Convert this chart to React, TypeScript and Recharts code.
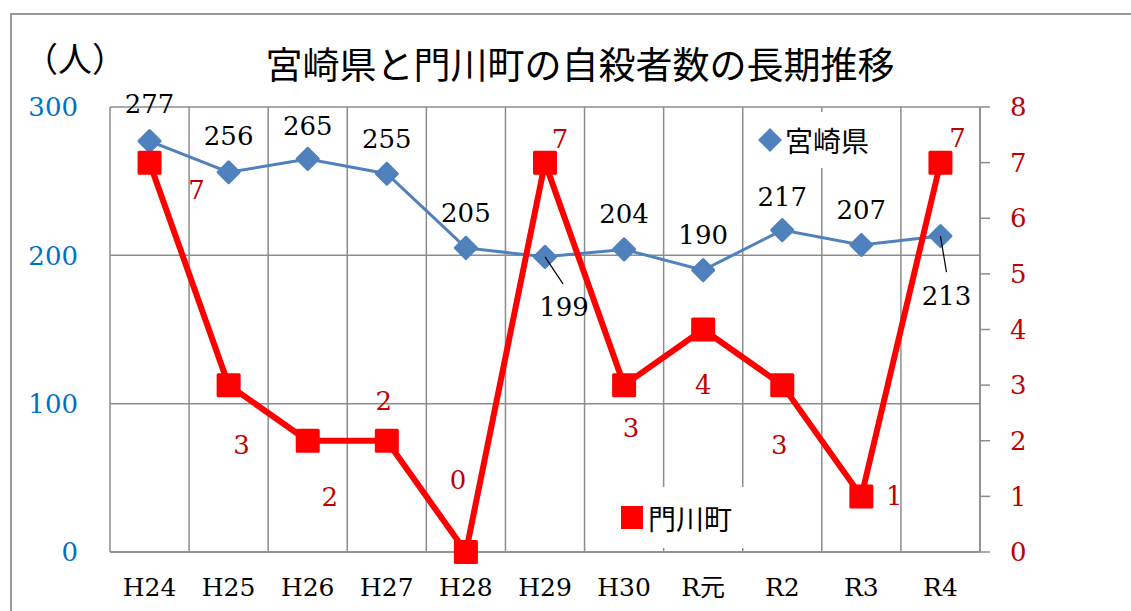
import {
  ComposedChart, Line, XAxis, YAxis, CartesianGrid, LabelList,
} from 'recharts';

const years = ['H24', 'H25', 'H26', 'H27', 'H28', 'H29', 'H30', 'R元', 'R2', 'R3', 'R4'];
const miyazaki = [277, 256, 265, 255, 205, 199, 204, 190, 217, 207, 213];
const kadogawa = [7, 3, 2, 2, 0, 7, 3, 4, 3, 1, 7];
const leftTicks = [0, 100, 200, 300];
const rightTicks = [0, 1, 2, 3, 4, 5, 6, 7, 8];

// label placement relative to each point (layout only)
const miyaOffsets = [[0, -37], [0, -36], [0, -33], [0, -35], [0, -35], [19, 50], [0, -35], [0, -35], [0, -33], [0, -35], [6, 60]];
const miyaLeaders: (number[] | null)[] = [null, null, null, null, null, [18, 27], null, null, null, null, [6, 36]];
const kadoOffsets = [[47, 27], [13, 60], [22, 56], [-3, -40], [-8, -72], [15, -24], [7, 43], [0, 55], [-3, 60], [33, 0], [17, -25]];

const data = years.map((y, i) => ({ year: y, miyazaki: miyazaki[i], kadogawa: kadogawa[i] }));

const W = 1131;
const H = 611;
const GRID = '#8c8c8c';
const NUM_FONT = "'DejaVu Serif', 'Noto Sans CJK JP', serif";
const JP_FONT = "'Noto Sans CJK JP', sans-serif";

function Diamond(p: any) {
  const { cx, cy } = p;
  if (cx == null || cy == null) return null;
  const r = 10.5;
  return (
    <path
      d={`M${cx},${cy - r}L${cx + r},${cy}L${cx},${cy + r}L${cx - r},${cy}Z`}
      fill="#4f81bd" stroke="#4f81bd" strokeWidth={3} strokeLinejoin="round"
    />
  );
}

function Square(p: any) {
  const { cx, cy } = p;
  if (cx == null || cy == null) return null;
  return (
    <rect x={cx - 10.5} y={cy - 10.5} width={21} height={21}
      fill="#ff0000" stroke="#ff0000" strokeWidth={3} strokeLinejoin="round" />
  );
}

function MiyaLabel(p: any) {
  const { x, y, value, index } = p;
  const [dx, dy] = miyaOffsets[index];
  const lead = miyaLeaders[index];
  return (
    <g>
      {lead && <line x1={x} y1={y} x2={x + lead[0]} y2={y + lead[1]} stroke="#000" strokeWidth={1.2} />}
      <text x={x + dx} y={y + dy} textAnchor="middle" dominantBaseline="central"
        fontFamily={NUM_FONT} fontSize={26} fill="#000">{value}</text>
    </g>
  );
}

function KadoLabel(p: any) {
  const { x, y, value, index } = p;
  const [dx, dy] = kadoOffsets[index];
  return (
    <text x={x + dx} y={y + dy} textAnchor="middle" dominantBaseline="central"
      fontFamily={NUM_FONT} fontSize={26} fill="#c00000">{value}</text>
  );
}

export default function App() {
  return (
    <div style={{ position: 'absolute', left: 0, top: 0, width: W, height: H, overflow: 'hidden', background: '#fff' }}>
      {/* outer frame, runs off the right and bottom edges */}
      <div style={{ position: 'absolute', left: 10, top: 13, width: 1300, height: 800, borderTop: `2px solid #9a9a9a`, borderLeft: `2px solid #9a9a9a` }} />

      <ComposedChart width={W} height={H} data={data}
        margin={{ top: 107, right: 91, bottom: 19, left: 10 }}>
        <CartesianGrid yAxisId="left" stroke={GRID} strokeWidth={1.5}
          verticalCoordinatesGenerator={({ offset }: any) =>
            Array.from({ length: years.length + 1 }, (_, i) => offset.left + (i * offset.width) / years.length)} />
        <XAxis dataKey="year" scale="band" height={40} tickLine={false} tickSize={0} tickMargin={26}
          axisLine={{ stroke: GRID, strokeWidth: 1.5 }} interval={0}
          tick={{ fontFamily: NUM_FONT, fontSize: 25, fill: '#000' }} />
        <YAxis yAxisId="left" width={100} domain={[0, 300]} ticks={leftTicks} interval={0}
          axisLine={false} tickLine={false} tickSize={0} tickMargin={32}
          tick={{ fontFamily: NUM_FONT, fontSize: 26, fill: '#0070c0' }} />
        <YAxis yAxisId="right" orientation="right" width={60} domain={[0, 8]} ticks={rightTicks} interval={0}
          axisLine={{ stroke: GRID, strokeWidth: 1.5 }} tickLine={{ stroke: GRID, strokeWidth: 1.5 }}
          tickSize={10} tickMargin={20}
          tick={{ fontFamily: NUM_FONT, fontSize: 26, fill: '#c00000' }} />
        <Line yAxisId="left" dataKey="miyazaki" name="宮崎県" stroke="#4f81bd" strokeWidth={3}
          dot={<Diamond />} activeDot={false} isAnimationActive={false}>
          <LabelList dataKey="miyazaki" content={<MiyaLabel />} />
        </Line>
        <Line yAxisId="right" dataKey="kadogawa" name="門川町" stroke="#ff0000" strokeWidth={6}
          strokeLinejoin="round" dot={<Square />} activeDot={false} isAnimationActive={false}>
          <LabelList dataKey="kadogawa" content={<KadoLabel />} />
        </Line>
      </ComposedChart>

      {/* title and unit */}
      <div style={{ position: 'absolute', left: 0, width: 1160, top: 63, transform: 'translateY(-50%)', textAlign: 'center', fontFamily: JP_FONT, fontSize: 37, lineHeight: 1, color: '#000' }}>
        宮崎県と門川町の自殺者数の長期推移
      </div>
      <div style={{ position: 'absolute', left: 20, width: 110, top: 58, transform: 'translateY(-50%)', textAlign: 'center', fontFamily: JP_FONT, fontSize: 34, lineHeight: 1, color: '#000' }}>
        （人）
      </div>

      {/* legends */}
      <div style={{ position: 'absolute', left: 746, top: 112, width: 134, height: 56, background: '#fff', display: 'flex', alignItems: 'center', fontFamily: JP_FONT, fontSize: 28, color: '#000' }}>
        <svg width={30} height={30} style={{ marginLeft: 9, marginRight: 0 }}>
          <path d="M15,3L27,15L15,27L3,15Z" fill="#4f81bd" />
        </svg>
        <span>宮崎県</span>
      </div>
      <div style={{ position: 'absolute', left: 592, top: 487, width: 156, height: 61, background: '#fff', display: 'flex', alignItems: 'center', fontFamily: JP_FONT, fontSize: 28, color: '#000' }}>
        <div style={{ width: 22, height: 23, background: '#ff0000', marginLeft: 29, marginRight: 5 }} />
        <span>門川町</span>
      </div>
    </div>
  );
}
